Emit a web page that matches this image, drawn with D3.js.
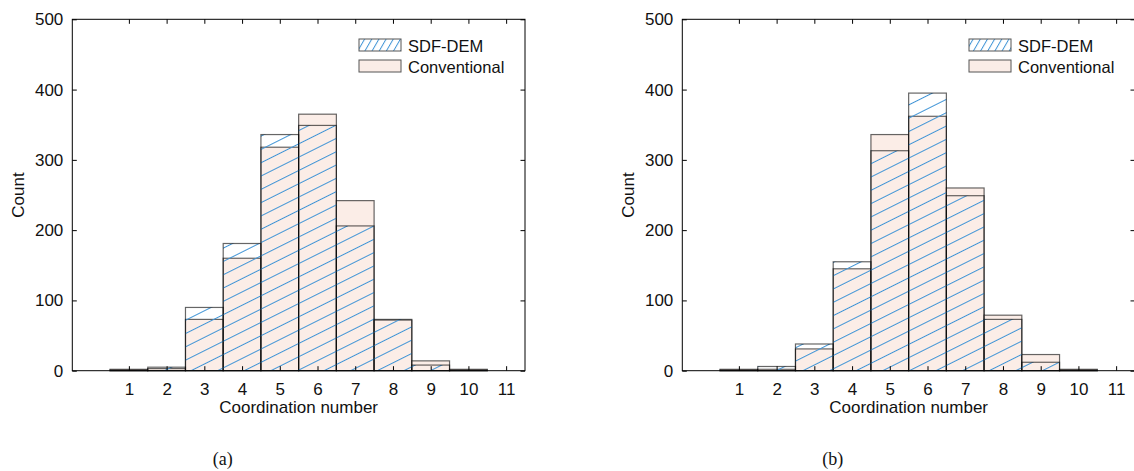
<!DOCTYPE html>
<html>
<head>
<meta charset="utf-8">
<script src="https://cdn.jsdelivr.net/npm/d3@7"></script>
<style>
  body { margin: 0; background: #fff; }
  svg { display: block; }
  text { font-family: "Liberation Sans", Arial, sans-serif; fill: #111; }
  .cap { font-family: "Liberation Serif", "Times New Roman", serif; }
</style>
</head>
<body>
<svg id="chart" width="1134" height="471"></svg>
<script>
// ---- data ----
const categories = [1, 2, 3, 4, 5, 6, 7, 8, 9, 10];
const sdfA  = [1, 5, 90, 181, 336, 349, 206, 73, 8, 1];
const convA = [2, 3, 73, 160, 318, 365, 242, 72, 14, 2];
const sdfB  = [1, 6, 38, 155, 313, 395, 249, 73, 12, 1];
const convB = [2, 2, 31, 145, 336, 362, 260, 79, 23, 2];
const xTicks = [1, 2, 3, 4, 5, 6, 7, 8, 9, 10, 11];
const yTicks = [0, 100, 200, 300, 400, 500];
const seriesNames = ["SDF-DEM", "Conventional"];
const captions = ["(a)", "(b)"];

const svg = d3.select("#chart");
const defs = svg.append("defs");

// hatch pattern for bars (continuous in user space)
const hp = defs.append("pattern")
  .attr("id", "hatch").attr("patternUnits", "userSpaceOnUse")
  .attr("width", 20).attr("height", 11.9)
  .attr("patternTransform", "rotate(-26.57)");
hp.append("line").attr("x1", 0).attr("x2", 20).attr("y1", 0.5).attr("y2", 0.5)
  .attr("stroke", "#4094d6").attr("stroke-width", 1);

// steeper hatch for legend swatch
const lp = defs.append("pattern")
  .attr("id", "hatchLeg").attr("patternUnits", "userSpaceOnUse")
  .attr("width", 20).attr("height", 6.2)
  .attr("patternTransform", "rotate(-60)");
lp.append("line").attr("x1", 0).attr("x2", 20).attr("y1", 0.5).attr("y2", 0.5)
  .attr("stroke", "#4094d6").attr("stroke-width", 1);

const PINK = "#fbede7";
const EDGE = "rgba(0,0,0,0.6)";

function panel(offsetX, sdf, conv, caption) {
  const left = 72.3 + offsetX, right = 525 + offsetX, top = 19.3, bottom = 370.7;
  const x = d3.scaleLinear().domain([-0.5, 11.5]).range([left, right]);
  const y = d3.scaleLinear().domain([0, 500]).range([bottom, top]);
  const g = svg.append("g");

  // conventional bars (pink)
  g.selectAll(".conv").data(categories).join("rect")
    .attr("x", d => x(d - 0.5)).attr("width", d => x(d + 0.5) - x(d - 0.5))
    .attr("y", (d, i) => y(conv[i])).attr("height", (d, i) => y(0) - y(conv[i]))
    .attr("fill", PINK).attr("stroke", EDGE).attr("stroke-width", 1.2);
  // SDF-DEM bars (hatched)
  g.selectAll(".sdf").data(categories).join("rect")
    .attr("x", d => x(d - 0.5)).attr("width", d => x(d + 0.5) - x(d - 0.5))
    .attr("y", (d, i) => y(sdf[i])).attr("height", (d, i) => y(0) - y(sdf[i]))
    .attr("fill", "url(#hatch)").attr("stroke", EDGE).attr("stroke-width", 1.2);

  // axes
  const tl = 4.5;
  const axB = g.append("g").attr("transform", `translate(0,${bottom})`)
    .call(d3.axisBottom(x).tickValues(xTicks).tickSize(-tl).tickPadding(12).tickFormat(d3.format("d")));
  const axT = g.append("g").attr("transform", `translate(0,${top})`)
    .call(d3.axisTop(x).tickValues(xTicks).tickSize(-tl).tickFormat(""));
  const axL = g.append("g").attr("transform", `translate(${left},0)`)
    .call(d3.axisLeft(y).tickValues(yTicks).tickSize(-tl).tickPadding(9));
  const axR = g.append("g").attr("transform", `translate(${right},0)`)
    .call(d3.axisRight(y).tickValues(yTicks).tickSize(-tl).tickFormat(""));
  [axB, axT, axL, axR].forEach(a => {
    a.select(".domain").remove();
    a.selectAll("line").attr("stroke", "#000").attr("stroke-width", 1);
    a.selectAll("text").style("font-size", "17px").attr("fill", "#111")
      .style("font-family", '"Liberation Sans", Arial, sans-serif');
  });
  g.append("rect").attr("x", left).attr("y", top)
    .attr("width", right - left).attr("height", bottom - top)
    .attr("fill", "none").attr("stroke", "#000").attr("stroke-width", 1);

  // labels
  g.append("text").attr("x", (left + right) / 2).attr("y", 413)
    .attr("text-anchor", "middle").style("font-size", "17px").text("Coordination number");
  g.append("text").attr("transform", `translate(${left - 48},${(top + bottom) / 2}) rotate(-90)`)
    .attr("text-anchor", "middle").style("font-size", "17px").text("Count");
  g.append("text").attr("class", "cap").attr("x", (left + right) / 2 - 76).attr("y", 465)
    .attr("text-anchor", "middle").style("font-size", "18px").text(caption);

  // legend
  const lx = 359 + offsetX;
  const lg = g.append("g");
  lg.append("rect").attr("x", lx).attr("y", 39).attr("width", 42).attr("height", 12)
    .attr("fill", "url(#hatchLeg)").attr("stroke", "#555").attr("stroke-width", 1);
  lg.append("rect").attr("x", lx).attr("y", 60).attr("width", 42).attr("height", 12)
    .attr("fill", PINK).attr("stroke", "#555").attr("stroke-width", 1);
  lg.append("text").attr("x", lx + 49).attr("y", 51.5).style("font-size", "16.5px").text(seriesNames[0]);
  lg.append("text").attr("x", lx + 49).attr("y", 72.5).style("font-size", "16.5px").text(seriesNames[1]);
}

panel(0, sdfA, convA, captions[0]);
panel(610, sdfB, convB, captions[1]);
</script>
</body>
</html>
